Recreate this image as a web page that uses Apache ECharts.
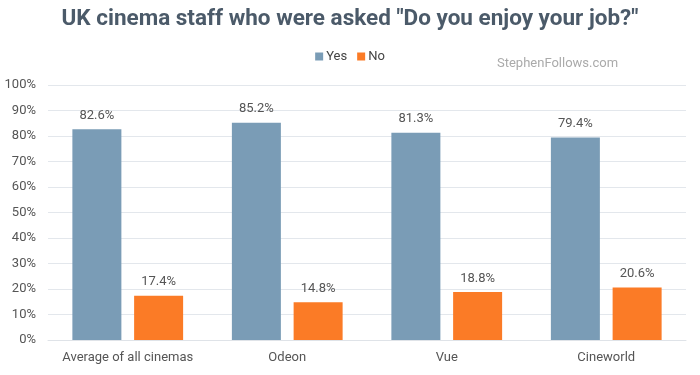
<!DOCTYPE html>
<html>
<head>
<meta charset="utf-8">
<script src="https://cdn.jsdelivr.net/npm/echarts@6/dist/echarts.min.js"></script>
<style>
  html, body { margin: 0; padding: 0; background: #fff; }
  #chart { width: 700px; height: 375px; }
</style>
</head>
<body>
<div id="chart"></div>
<script>
const categories = ['Average of all cinemas', 'Odeon', 'Vue', 'Cineworld']
const yesValues = [82.6, 85.2, 81.3, 79.4]
const noValues = [17.4, 14.8, 18.8, 20.6]

const chart = echarts.init(document.getElementById('chart'))

const labelStyle = {
  show: true,
  position: 'top',
  distance: 7,
  formatter: p => p.value.toFixed(1) + '%',
  color: '#555',
  fontSize: 13,
  fontFamily: 'Roboto'
}

chart.setOption({
  animation: false,
  textStyle: { fontFamily: 'Roboto' },
  title: {
    text: 'UK cinema staff who were asked "Do you enjoy your job?"',
    left: 'center',
    top: 3,
    textStyle: { fontSize: 22.5, fontWeight: 'bold', color: '#4b5a69', fontFamily: 'Roboto' }
  },
  legend: {
    top: 45,
    left: 'center',
    itemWidth: 8,
    itemHeight: 8,
    itemGap: 10,
    icon: 'rect',
    textStyle: { fontSize: 13, color: '#444', padding: [0, 0, 0, -2] },
    data: ['Yes', 'No']
  },
  graphic: [{
    type: 'text',
    left: 497,
    top: 57,
    style: { text: 'StephenFollows.com', fill: '#aaa', fontSize: 13, fontFamily: 'Roboto' }
  }],
  grid: { left: 48, right: 14, top: 85, bottom: 35 },
  xAxis: {
    type: 'category',
    data: categories,
    axisLine: { lineStyle: { color: '#dfe3e8' } },
    axisTick: { show: false },
    axisLabel: { color: '#555', fontSize: 13, margin: 11, interval: 0 }
  },
  yAxis: {
    type: 'value',
    min: 0,
    max: 100,
    interval: 10,
    axisLine: { show: false },
    axisTick: { show: false },
    axisLabel: { color: '#555', fontSize: 13, margin: 12, formatter: '{value}%' },
    splitLine: { lineStyle: { color: '#e3e7ec' } }
  },
  series: [
    {
      name: 'Yes',
      type: 'bar',
      data: yesValues,
      barWidth: 49,
      barGap: '26%',
      itemStyle: { color: '#7a9cb6' },
      label: labelStyle
    },
    {
      name: 'No',
      type: 'bar',
      data: noValues,
      barWidth: 49,
      itemStyle: { color: '#fb7b26' },
      label: labelStyle
    }
  ]
})
</script>
</body>
</html>
